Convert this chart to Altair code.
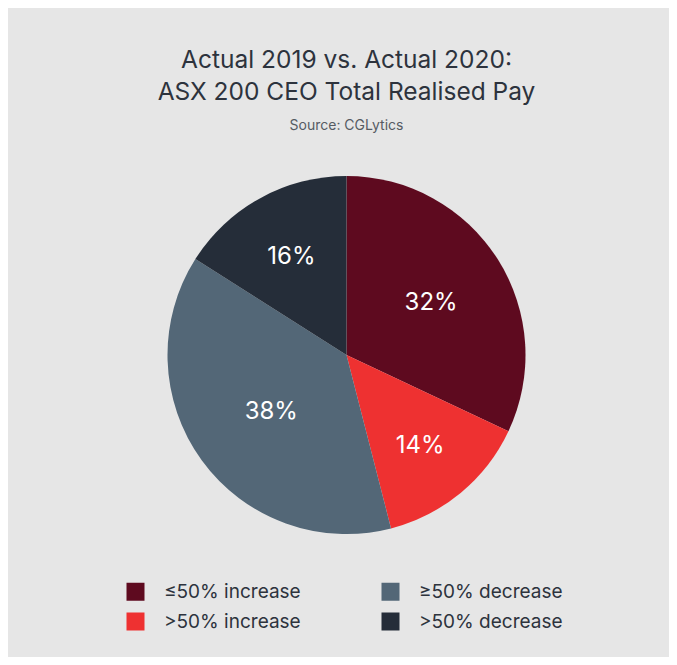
import altair as alt
import pandas as pd

# Pie order (clockwise from 12 o'clock)
categories = ["≤50% increase", ">50% increase", "≥50% decrease", ">50% decrease"]
values = [32, 14, 38, 16]
colors = ["#5e0a1f", "#ee3131", "#536777", "#252d39"]

df = pd.DataFrame({
    "cat": categories,
    "value": values,
    "idx": list(range(len(categories))),
    "label": [f"{v}%" for v in values],
})

R = 179
FONT = "Inter"
TXT = "#2d333d"
BG = "#e6e6e6"

arcs = alt.Chart(df).mark_arc(outerRadius=R).encode(
    theta=alt.Theta("value:Q", stack=True, scale=alt.Scale(domain=[0, 100])),
    order=alt.Order("idx:Q"),
    color=alt.Color(
        "cat:N",
        scale=alt.Scale(domain=categories, range=colors),
        legend=alt.Legend(
            title=None,
            orient="none",
            legendX=102,
            legendY=424,
            columns=2,
            columnPadding=80,
            rowPadding=10,
            symbolType="square",
            symbolSize=324,
            symbolStrokeWidth=0,
            symbolOpacity=1,
            labelFont=FONT,
            labelFontSize=19,
            labelColor=TXT,
            labelOffset=19,
            labelLimit=400,
            padding=0,
        ),
    ),
)

labels = alt.Chart(df).transform_window(
    cum="sum(value)", sort=[alt.SortField("idx")]
).transform_calculate(
    mid="datum.cum - datum.value/2",
    lr=f"2*{R}*sin(PI*datum.value/100)/(3*PI*datum.value/100)",
).mark_text(
    font=FONT, fontSize=24, color="white", align="center", baseline="middle", dy=2
).encode(
    theta=alt.Theta("mid:Q", stack=None, scale=alt.Scale(domain=[0, 100])),
    radius=alt.Radius("lr:Q", scale=None),
    text="label:N",
)

chart = alt.layer(arcs, labels).properties(
    width=645,
    height=394,
    padding={"left": 16, "top": 150, "right": 0, "bottom": 105},
    autosize=alt.AutoSizeParams(type="none"),
    background=BG,
    title=alt.TitleParams(
        text=["Actual 2019 vs. Actual 2020:", "ASX 200 CEO Total Realised Pay"],
        subtitle="Source: CGLytics",
        anchor="middle",
        font=FONT,
        fontSize=24.5,
        fontWeight="normal",
        lineHeight=32,
        color=TXT,
        subtitleFont=FONT,
        subtitleFontSize=14,
        subtitleColor="#555b63",
        subtitlePadding=14,
        offset=24,
    ),
).configure_view(stroke=None)

chart.save("out.html", embed_options={"renderer": "svg", "actions": False})
